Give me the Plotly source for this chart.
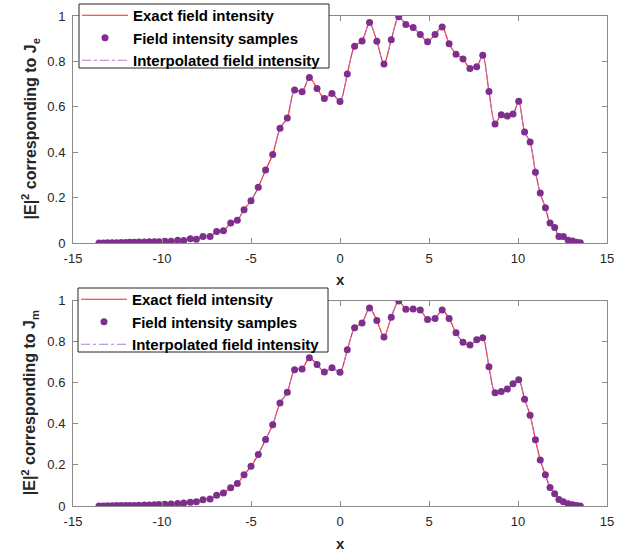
import plotly.graph_objects as go

# ---------------- data ----------------
x_samples = [
    -13.54, -13.30, -13.06, -12.80, -12.55, -12.30, -12.04, -11.80, -11.55, -11.29,
    -10.99, -10.71, -10.43, -10.17, -9.83, -9.49, -9.12, -8.78, -8.41, -8.07,
    -7.70, -7.30, -6.93, -6.55, -6.14, -5.77, -5.39, -5.00, -4.59, -4.18,
    -3.78, -3.37, -2.96, -2.55, -2.13, -1.72, -1.29, -0.88, -0.45, 0.00,
    0.41, 0.82, 1.24, 1.66, 2.07, 2.47, 2.88, 3.30, 3.70, 4.11,
    4.51, 4.92, 5.34, 5.74, 6.13, 6.52, 6.91, 7.30, 7.68, 8.02,
    8.37, 8.71, 9.06, 9.40, 9.72, 10.04, 10.37, 10.68, 10.98, 11.25,
    11.54, 11.80, 12.06, 12.30, 12.55, 12.82, 13.07, 13.30, 13.50,
]

intensity_Je = [
    0.000, 0.000, 0.001, 0.001, 0.001, 0.002, 0.002, 0.003, 0.003, 0.004,
    0.004, 0.005, 0.006, 0.006, 0.008, 0.008, 0.012, 0.011, 0.019, 0.017,
    0.029, 0.029, 0.051, 0.054, 0.088, 0.100, 0.147, 0.186, 0.246, 0.322,
    0.390, 0.505, 0.551, 0.674, 0.666, 0.729, 0.681, 0.637, 0.659, 0.623,
    0.744, 0.867, 0.890, 0.971, 0.889, 0.788, 0.895, 0.997, 0.963, 0.949,
    0.919, 0.887, 0.919, 0.952, 0.878, 0.832, 0.811, 0.769, 0.776, 0.827,
    0.667, 0.524, 0.565, 0.559, 0.568, 0.624, 0.489, 0.445, 0.312, 0.220,
    0.155, 0.088, 0.068, 0.029, 0.029, 0.012, 0.009, 0.003, 0.001,
]

intensity_Jm = [
    0.000, 0.000, 0.001, 0.001, 0.002, 0.002, 0.002, 0.003, 0.003, 0.004,
    0.005, 0.005, 0.006, 0.007, 0.008, 0.010, 0.012, 0.014, 0.018, 0.021,
    0.031, 0.034, 0.052, 0.063, 0.089, 0.109, 0.152, 0.193, 0.251, 0.324,
    0.395, 0.501, 0.554, 0.663, 0.667, 0.721, 0.689, 0.652, 0.673, 0.651,
    0.760, 0.867, 0.891, 0.964, 0.903, 0.822, 0.919, 0.997, 0.958, 0.959,
    0.954, 0.908, 0.912, 0.954, 0.912, 0.843, 0.797, 0.783, 0.809, 0.819,
    0.678, 0.551, 0.557, 0.569, 0.595, 0.614, 0.520, 0.442, 0.322, 0.224,
    0.152, 0.090, 0.060, 0.032, 0.021, 0.011, 0.006, 0.003, 0.000,
]

x_ticks = [-15, -10, -5, 0, 5, 10, 15]
x_tick_labels = ["-15", "-10", "-5", "0", "5", "10", "15"]
y_ticks = [0, 0.2, 0.4, 0.6, 0.8, 1]
y_tick_labels = ["0", "0.2", "0.4", "0.6", "0.8", "1"]

names = ["Exact field intensity", "Field intensity samples", "Interpolated field intensity"]
y_titles = ["<b>|E|<sup>2</sup> corresponding to J<sub>e</sub></b>",
            "<b>|E|<sup>2</sup> corresponding to J<sub>m</sub></b>"]

RED = "#FF1F1F"
PURPLE = "#7E2F8E"
LIGHT_PURPLE = "#B27FD2"
FONT = "Liberation Sans, Arial, sans-serif"
TXT = "#262626"

fig = go.Figure()

for i, (yvals, leg) in enumerate([(intensity_Je, "legend"), (intensity_Jm, "legend2")]):
    xa = "x" if i == 0 else "x2"
    ya = "y" if i == 0 else "y2"
    fig.add_trace(go.Scatter(x=x_samples, y=yvals, mode="lines", name=names[0],
                             line=dict(color=RED, width=1.2, shape="spline", smoothing=0.8),
                             xaxis=xa, yaxis=ya, legend=leg, legendrank=1))
    fig.add_trace(go.Scatter(x=x_samples, y=yvals, mode="lines", name=names[2],
                             line=dict(color=LIGHT_PURPLE, width=1, dash="dashdot",
                                       shape="spline", smoothing=0.8),
                             xaxis=xa, yaxis=ya, legend=leg, legendrank=3))
    fig.add_trace(go.Scatter(x=x_samples, y=yvals, mode="markers", name=names[1],
                             marker=dict(color=PURPLE, size=7),
                             xaxis=xa, yaxis=ya, legend=leg, legendrank=2))

W, H = 634, 553
ml, mr, mt, mb = 73, 27, 16, 47
pw = W - ml - mr
ph = H - mt - mb  # 490
top_dom = [(506 - 243) / ph, 1.0]
bot_dom = [0.0, (506 - 300.5) / ph]


def px_x(p):
    return (p - ml) / pw


def px_y(p):
    return (506 - p) / ph


axis_common = dict(
    range=[-15, 15], tickvals=x_ticks, ticktext=x_tick_labels,
    showgrid=False, zeroline=False,
    showline=True, linecolor="#8a8a8a", linewidth=1, mirror="allticks",
    ticks="inside", ticklen=5, tickcolor="#8a8a8a", ticklabelstandoff=3,
    tickfont=dict(family=FONT, size=13, color=TXT),
)
yaxis_common = dict(
    range=[0, 1], tickvals=y_ticks, ticktext=y_tick_labels,
    showgrid=False, zeroline=False,
    showline=True, linecolor="#8a8a8a", linewidth=1, mirror="allticks",
    ticks="inside", ticklen=5, tickcolor="#8a8a8a", ticklabelstandoff=4,
    tickfont=dict(family=FONT, size=13, color=TXT),
)

legend_common = dict(
    xanchor="left", yanchor="top", bgcolor="rgba(0,0,0,0)",
    borderwidth=0, itemwidth=46,
    font=dict(family=FONT, size=15, color="black", weight="bold"),
    tracegroupgap=0,
)

# legend frames (white boxes behind the legends)
shapes = []
for (x0, y0, x1, y1) in [(79, 4, 329, 68), (78, 288, 328, 352)]:
    shapes.append(dict(type="rect", xref="paper", yref="paper",
                       x0=px_x(x0), x1=px_x(x1), y0=px_y(y1), y1=px_y(y0),
                       fillcolor="white", line=dict(color="#262626", width=1),
                       layer="above"))

annotations = []
for dom, title in [(top_dom, y_titles[0]), (bot_dom, y_titles[1])]:
    annotations.append(dict(
        text=title, textangle=-90, xref="paper", yref="paper",
        x=px_x(30), y=(dom[0] + dom[1]) / 2,
        xanchor="center", yanchor="middle", showarrow=False,
        font=dict(family=FONT, size=16, color=TXT)))
for ypix in [279, 543]:
    annotations.append(dict(
        text="<b>x</b>", xref="paper", yref="paper",
        x=0.5, y=px_y(ypix), xanchor="center", yanchor="middle",
        showarrow=False, font=dict(family=FONT, size=15, color=TXT)))

fig.update_layout(
    width=W, height=H,
    margin=dict(l=ml, r=mr, t=mt, b=mb, autoexpand=False),
    paper_bgcolor="white", plot_bgcolor="white",
    xaxis=dict(domain=[0, 1], anchor="y", **axis_common),
    yaxis=dict(domain=top_dom, anchor="x", **yaxis_common),
    xaxis2=dict(domain=[0, 1], anchor="y2", **axis_common),
    yaxis2=dict(domain=bot_dom, anchor="x2", **yaxis_common),
    legend=dict(x=px_x(77), y=px_y(-1), **legend_common),
    legend2=dict(x=px_x(76), y=px_y(283), **legend_common),
    shapes=shapes,
    annotations=annotations,
    showlegend=True,
)

fig.write_html("out.html", config={"displayModeBar": False},
               post_script="document.body.style.margin='0';")
